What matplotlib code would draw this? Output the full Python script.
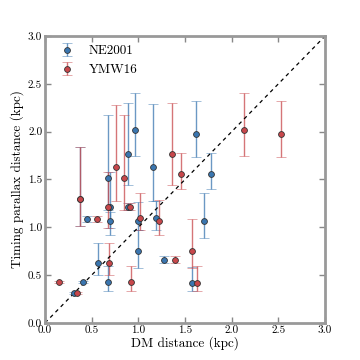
import matplotlib
matplotlib.use("Agg")
import matplotlib.pyplot as plt
import numpy as np

plt.rcParams['font.family'] = 'serif'
plt.rcParams['font.serif'] = ['cmr10', 'DejaVu Serif']
plt.rcParams['mathtext.fontset'] = 'cm'
plt.rcParams['axes.formatter.use_mathtext'] = True

# NE2001: DM distance, parallax distance, lower, upper
ne_x = [0.96, 0.89, 0.68, 1.16, 1.78, 1.62, 0.37, 0.70, 0.885, 0.45, 1.185,
        0.70, 1.00, 1.70, 1.00, 0.565, 0.67, 1.57, 1.27, 0.41, 0.315]
ne_y = [2.02, 1.77, 1.52, 1.63, 1.56, 1.98, 1.30, 1.215, 1.215, 1.09, 1.10,
        1.07, 1.07, 1.07, 0.755, 0.63, 0.43, 0.42, 0.66, 0.43, 0.31]
ne_lo = [1.745, 1.44, 1.18, 1.27, 1.40, 1.73, 1.01, 0.99, 1.18, 1.06, 0.97,
         0.92, 0.97, 0.885, 0.57, 0.50, 0.335, 0.33, 0.63, 0.42, 0.30]
ne_hi = [2.40, 2.30, 2.17, 2.29, 1.78, 2.32, 1.84, 1.575, 1.25, 1.12, 1.27,
         1.16, 1.26, 1.36, 0.97, 0.84, 0.595, 0.58, 0.70, 0.44, 0.32]

# YMW16
ymw_x = [2.13, 1.36, 0.85, 0.76, 1.46, 2.53, 0.38, 0.67, 0.91, 0.56, 1.015,
         1.225, 1.57, 0.69, 0.92, 1.63, 1.39, 0.15, 0.34]
ymw_y = [2.02, 1.77, 1.52, 1.63, 1.56, 1.98, 1.30, 1.215, 1.215, 1.09, 1.10,
         1.07, 0.755, 0.63, 0.43, 0.42, 0.66, 0.43, 0.31]
ymw_lo = [1.745, 1.44, 1.18, 1.27, 1.40, 1.73, 1.01, 0.99, 1.18, 1.06, 0.97,
          0.92, 0.57, 0.50, 0.335, 0.33, 0.63, 0.42, 0.30]
ymw_hi = [2.40, 2.30, 2.17, 2.28, 1.78, 2.32, 1.84, 1.575, 1.25, 1.12, 1.36,
          1.29, 1.09, 0.84, 0.595, 0.59, 0.70, 0.44, 0.32]

blue = '#3a76b0'
red = '#c8474b'

fig = plt.figure(figsize=(3.6, 3.6), dpi=100)
ax = fig.add_axes([0.125, 0.103, 0.778, 0.797])

def draw(x, y, lo, hi, color, label):
    x = np.array(x); y = np.array(y)
    yerr = np.vstack([y - np.array(lo), np.array(hi) - y])
    eb = ax.errorbar(x, y, yerr=yerr, fmt='o', color=color, ms=4.2,
                     mec='#333333', mew=0.6, ecolor=color, elinewidth=1.0,
                     capsize=3.5, capthick=1.0, label=label)
    for c in eb[1]:
        c.set_alpha(0.55)
    for c in eb[2]:
        c.set_alpha(0.75)
    return eb

draw(ne_x, ne_y, ne_lo, ne_hi, blue, 'NE2001')
draw(ymw_x, ymw_y, ymw_lo, ymw_hi, red, 'YMW16')

ax.plot([0, 3], [0, 3], ls='--', color='black', lw=0.9, dashes=(3, 3))

ax.set_xlim(0, 3)
ax.set_ylim(0, 3)
ax.set_xticks(np.arange(0, 3.01, 0.5))
ax.set_yticks(np.arange(0, 3.01, 0.5))
ax.set_xticklabels([f'{v:.1f}' for v in np.arange(0, 3.01, 0.5)])
ax.set_yticklabels([f'{v:.1f}' for v in np.arange(0, 3.01, 0.5)])
ax.tick_params(direction='in', top=True, right=True, length=4, width=1,
               color='#888888', labelsize=8, pad=2)
for s in ax.spines.values():
    s.set_color('#999999')
    s.set_linewidth(2)
ax.set_xlabel('DM distance (kpc)', fontsize=9.5, labelpad=1)
ax.set_ylabel('Timing parallax distance (kpc)', fontsize=9.5, labelpad=3)
ax.legend(loc='upper left', frameon=False, fontsize=9.5, handletextpad=0.6,
          borderaxespad=0.3)

fig.savefig('out.png', dpi=100)
